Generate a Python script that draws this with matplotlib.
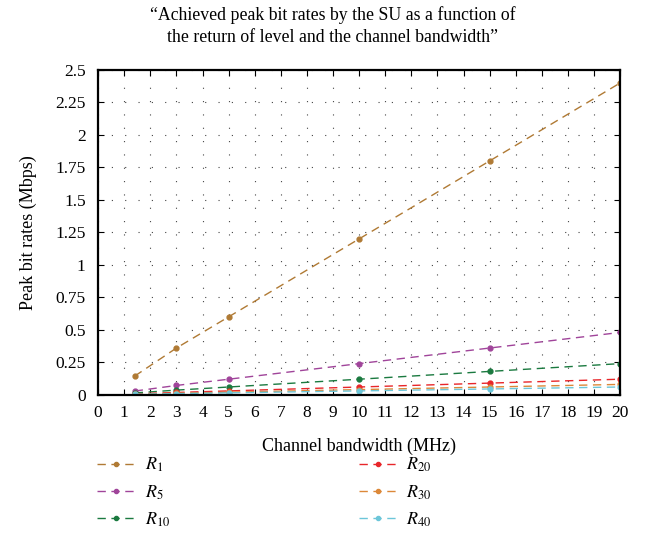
import matplotlib.pyplot as plt
import numpy as np

plt.rcParams['font.family'] = ['Liberation Serif', 'DejaVu Serif']
plt.rcParams['mathtext.fontset'] = 'stix'

bandwidth = [1.4, 3, 5, 10, 15, 20]
r1 = [0.144, 0.36, 0.6, 1.2, 1.8, 2.4]
r5 = [0.0288, 0.072, 0.12, 0.24, 0.36, 0.48]
r10 = [0.0144, 0.036, 0.06, 0.12, 0.18, 0.24]
r20 = [0.0072, 0.018, 0.03, 0.06, 0.09, 0.12]
r30 = [0.0048, 0.012, 0.02, 0.04, 0.06, 0.08]
r40 = [0.0036, 0.009, 0.015, 0.03, 0.045, 0.06]

series = [(r1, r'$R_1$', '#b07a34'),
          (r5, r'$R_5$', '#a0449a'),
          (r10, r'$R_{10}$', '#1b7a40'),
          (r20, r'$R_{20}$', '#e8262a'),
          (r30, r'$R_{30}$', '#dc8838'),
          (r40, r'$R_{40}$', '#6cc6d9')]

fig = plt.figure(figsize=(6.5, 5.6), dpi=100)
ax = fig.add_axes([0.151, 0.295, 0.803, 0.58])

for vals, lab, col in series:
    ax.plot(bandwidth, vals, color=col, linestyle=(0, (6, 4)), linewidth=1.0,
            marker='o', markersize=3.5, label=lab)

ax.set_xlim(0, 20)
ax.set_ylim(0, 2.5)
ax.set_xticks(np.arange(0, 21, 1))
ax.set_yticks(np.arange(0, 2.51, 0.25))
ax.set_yticklabels(['0', '0.25', '0.5', '0.75', '1', '1.25', '1.5', '1.75', '2', '2.25', '2.5'])
ax.tick_params(direction='in', top=True, right=True, labelsize=12.5, length=4)
ax.tick_params(axis='y', pad=9)
ax.tick_params(axis='x', pad=7)
ax.grid(True, color='#444444', linestyle=(0, (1, 11)), linewidth=0.8)
for s in ax.spines.values():
    s.set_linewidth(1.6)

ax.set_xlabel('Channel bandwidth (MHz)', fontsize=13, labelpad=12)
ax.set_ylabel('Peak bit rates (Mbps)', fontsize=13, labelpad=13)

fig.text(150 / 650, 1 - 15 / 560, '\u201cAchieved peak bit rates by the SU as a function of',
         fontsize=12.8, ha='left', va='center')
fig.text(167 / 650, 1 - 38 / 560, 'the return of level and the channel bandwidth\u201d',
         fontsize=12.8, ha='left', va='center')

ax.legend(loc='upper left', bbox_to_anchor=(-0.034, -0.138), ncol=2, frameon=False,
          fontsize=13, columnspacing=10.45, handlelength=2.1, handletextpad=0.55,
          labelspacing=0.5, markerscale=0.85)

fig.savefig('out.png', dpi=100)
